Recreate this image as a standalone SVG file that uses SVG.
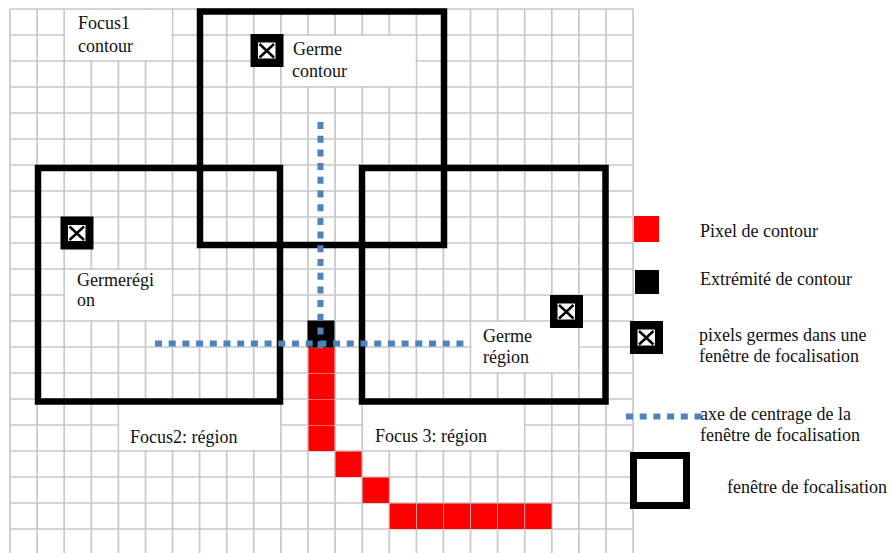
<svg xmlns="http://www.w3.org/2000/svg" xmlns:xlink="http://www.w3.org/1999/xlink" width="893" height="553" viewBox="0 0 893 553">
<style>
.grid{stroke:#c8c8c8;stroke-width:1.7;fill:none}
.win{fill:none;stroke:#000;stroke-width:6.5}
.box{fill:#fff}
.axis{fill:none;stroke:#4f81bd;stroke-width:6;stroke-dasharray:7 6.7}
.red{fill:#ff0000}
.t{font-family:"Liberation Serif","Times New Roman",serif;font-size:18px;fill:#111}
</style>
<defs>
<g id="seed">
<rect x="0" y="0" width="33" height="33" fill="#000"/>
<rect x="7" y="8" width="18.5" height="17" fill="#fff" stroke="#000" stroke-width="1"/>
<path d="M9 10 L23.5 23.5 M23.5 10 L9 23.5" stroke="#000" stroke-width="2.4" fill="none"/>
</g>
</defs>
<rect width="893" height="553" fill="#fff"/>
<g id="grid">
<path class="grid" d="M10 9V553M37.1 9V553M64.2 9V553M91.3 9V553M118.4 9V553M145.5 9V553M172.5 9V553M199.6 9V553M226.7 9V553M253.8 9V553M280.9 9V553M308 9V553M335.1 9V553M362.2 9V553M389.3 9V553M416.4 9V553M443.4 9V553M470.5 9V553M497.6 9V553M524.7 9V553M551.8 9V553M578.9 9V553M606 9V553M633.1 9V553"/>
<path class="grid" d="M10 9H633M10 35H633M10 61H633M10 87H633M10 113H633M10 139H633M10 165H633M10 191H633M10 217H633M10 243H633M10 269H633M10 295H633M10 321H633M10 347H633M10 373H633M10 399H633M10 425H633M10 451H633M10 477H633M10 503H633M10 529H633"/>
</g>
<g id="text-boxes">
<rect class="box" x="65.2" y="10" width="106.4" height="50"/>
<rect class="box" x="283" y="36" width="132.5" height="50"/>
<rect class="box" x="65.2" y="270" width="106.4" height="50"/>
<rect class="box" x="471.5" y="322" width="106.5" height="50"/>
<rect class="box" x="119.4" y="400" width="160.5" height="50"/>
<rect class="box" x="363.2" y="400" width="160.5" height="50"/>
</g>
<g id="contour">
<rect class="red" x="308.5" y="347.5" width="26" height="25.5"/>
<rect class="red" x="308.5" y="373.5" width="26" height="25.5"/>
<rect class="red" x="308.5" y="399.5" width="26" height="25.5"/>
<rect class="red" x="308.5" y="425.5" width="26" height="25.5"/>
<rect class="red" x="335.5" y="451.5" width="26" height="25.5"/>
<rect class="red" x="362.6" y="477.5" width="26.3" height="25.5"/>
<rect class="red" x="389.7" y="503.5" width="26.3" height="25.5"/>
<rect class="red" x="416.8" y="503.5" width="26.3" height="25.5"/>
<rect class="red" x="443.8" y="503.5" width="26.3" height="25.5"/>
<rect class="red" x="470.9" y="503.5" width="26.3" height="25.5"/>
<rect class="red" x="498" y="503.5" width="26.3" height="25.5"/>
<rect class="red" x="525.1" y="503.5" width="26.5" height="25.5"/>
<rect id="extremity" x="307.5" y="320.5" width="27" height="27" fill="#000"/>
</g>
<g id="focus1">
<rect class="win" x="200" y="11.5" width="244" height="233.5"/>
<use xlink:href="#seed" x="250.5" y="34"/>
<text class="t" x="78" y="29">Focus1</text>
<text class="t" x="78" y="52">contour</text>
<text class="t" x="293" y="55">Germe</text>
<text class="t" x="292" y="77">contour</text>
</g>
<g id="focus2">
<rect class="win" x="38" y="168" width="242" height="233.5"/>
<use xlink:href="#seed" x="60.5" y="216.5"/>
<text class="t" x="77" y="286">Germerégi</text>
<text class="t" x="77" y="306">on</text>
<text class="t" x="130" y="443">Focus2: région</text>
</g>
<g id="focus3">
<rect class="win" x="362" y="168" width="243.5" height="233.5"/>
<use xlink:href="#seed" x="550" y="295"/>
<text class="t" x="483" y="342">Germe</text>
<text class="t" x="483" y="363">région</text>
<text class="t" x="375" y="442">Focus 3: région</text>
</g>
<g id="axes">
<path class="axis" d="M320.5 122V352"/>
<path class="axis" d="M155 343.5H470"/>
</g>
<g id="legend">
<rect class="red" x="634" y="216" width="25" height="26"/>
<text class="t" x="700" y="237">Pixel de contour</text>
<rect x="635" y="270" width="24" height="24" fill="#000"/>
<text class="t" x="700" y="285">Extrémité de contour</text>
<use xlink:href="#seed" x="630" y="321"/>
<text class="t" x="699" y="341">pixels germes dans une</text>
<text class="t" x="699" y="362">fenêtre de focalisation</text>
<text class="t" x="700" y="420">axe de centrage de la</text>
<path class="axis" d="M626 416.5H703"/>
<text class="t" x="700" y="441">fenêtre de focalisation</text>
<rect x="633.5" y="455.5" width="53" height="50" fill="#fff" stroke="#000" stroke-width="7"/>
<text class="t" x="727" y="493">fenêtre de focalisation</text>
</g>
</svg>
